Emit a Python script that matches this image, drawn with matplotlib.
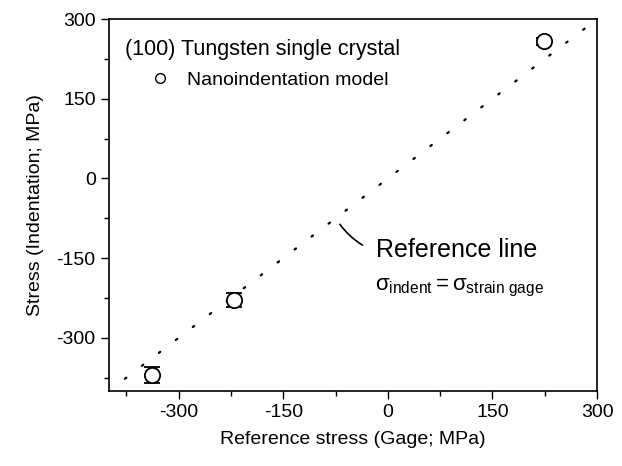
import numpy as np
import matplotlib.pyplot as plt
from matplotlib.ticker import MultipleLocator

plt.rcParams['font.family'] = ['Liberation Sans', 'DejaVu Sans']
plt.rcParams['mathtext.fontset'] = 'custom'
plt.rcParams['mathtext.rm'] = 'Liberation Sans'
plt.rcParams['mathtext.it'] = 'Liberation Sans'
plt.rcParams['axes.unicode_minus'] = False

# Data
gage_stress = [-338, -220, 224]      # reference stress (MPa)
indent_stress = [-370, -228, 258]    # nanoindentation model (MPa)
indent_err = [15, 13, 6]
ref_line = [-377, 283]               # reference line y = x extent

x_ticks = [-300, -150, 0, 150, 300]
y_ticks = [-300, -150, 0, 150, 300]

fig = plt.figure(figsize=(6.22, 4.66), dpi=100)
ax = fig.add_axes([0.175, 0.161, 0.785, 0.798])

# reference line sigma_indent = sigma_gage
ax.plot(ref_line, ref_line, color='black', linewidth=1.6,
        linestyle=(0, (0.8, 8.8)), dash_capstyle='round')

ax.errorbar(gage_stress, indent_stress, yerr=indent_err, fmt='o',
            markersize=11, mfc='white', mec='black', mew=1.3,
            ecolor='black', elinewidth=1.2, capsize=6, capthick=1.8, zorder=3)

# legend entry (proxy)
ax.plot([], [], 'o', markersize=7, mfc='white', mec='black', mew=1.0,
        label='Nanoindentation model')
ax.legend(loc='center left', bbox_to_anchor=(0.069, 0.836), frameon=False,
          fontsize=14, handlelength=1.0, handletextpad=0.9, borderaxespad=0)

ax.text(0.033, 0.917, '(100) Tungsten single crystal', transform=ax.transAxes,
        fontsize=15.5, va='center', ha='left')

ax.annotate('', xy=(-33, -128), xytext=(-71, -82),
            arrowprops=dict(arrowstyle='-', color='black', lw=1.2,
                            connectionstyle='arc3,rad=0.12'))
ax.text(-17, -147, 'Reference line', fontsize=18, va='baseline', ha='left')
ax.text(-19, -210, r'$\sigma_{\mathrm{indent}}=\sigma_{\mathrm{strain\ gage}}$',
        fontsize=16, va='baseline', ha='left')

ax.set_xlim(-400, 300)
ax.set_ylim(-400, 300)
ax.set_xticks(x_ticks)
ax.set_yticks(y_ticks)
ax.xaxis.set_minor_locator(MultipleLocator(75))
ax.yaxis.set_minor_locator(MultipleLocator(75))
ax.tick_params(which='major', direction='out', length=6, width=1.0, labelsize=14)
ax.tick_params(which='minor', direction='out', length=3.5, width=1.0)
for s in ax.spines.values():
    s.set_linewidth(1.2)

ax.set_xlabel('Reference stress (Gage; MPa)', fontsize=14, labelpad=7)
ax.set_ylabel('Stress (Indentation; MPa)', fontsize=14, labelpad=9)

fig.savefig('out.png', dpi=100)
